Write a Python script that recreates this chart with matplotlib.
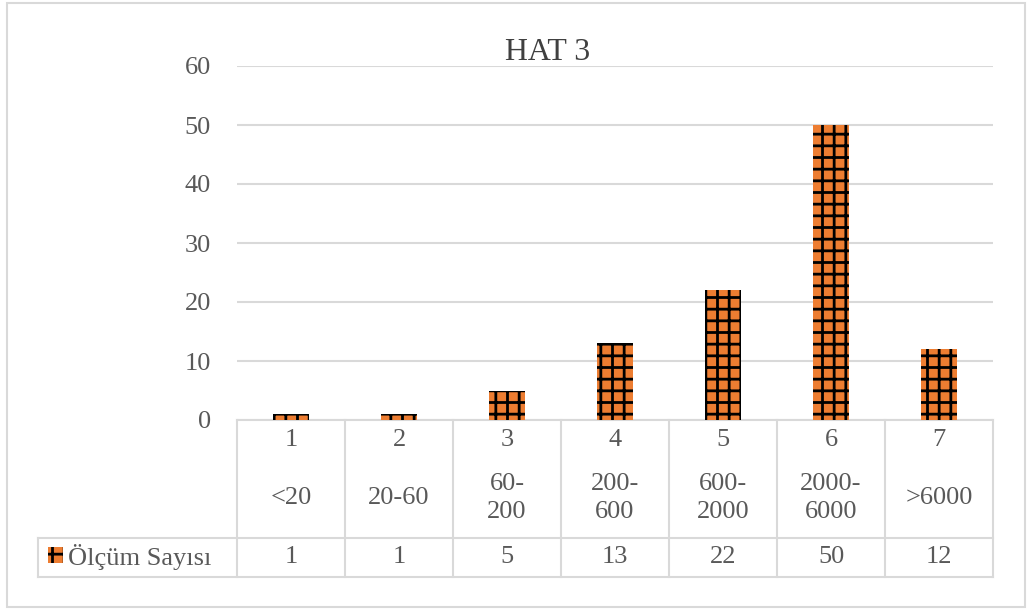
import numpy as np
import matplotlib
matplotlib.use("Agg")
import matplotlib.pyplot as plt
import matplotlib.transforms as mtransforms
from matplotlib.patches import Rectangle

# dpi 70 so the '+' hatch repeats every ~12 px like the original
DPI = 70
S = 100 / DPI  # sizes below are given as if at 100 dpi

plt.rcParams['font.family'] = ['Liberation Serif', 'DejaVu Serif']
plt.rcParams['hatch.linewidth'] = 2.0 * S
plt.rcParams['hatch.color'] = 'black'

# data
title = "HAT 3"
series_name = "Ölçüm Sayısı"
class_no = ["1", "2", "3", "4", "5", "6", "7"]
ranges = ["<20", "20-60", "60-\n200", "200-\n600", "600-\n2000", "2000-\n6000", ">6000"]
counts = [1, 1, 5, 13, 22, 50, 12]

W, H = 1033, 610
TXT = '#595959'
GRID = '#d9d9d9'
ORANGE = '#ed7d31'
FS = 19 * S


def fy(py):
    # pixel row (from top) -> figure fraction
    return 1 - py / H


fig = plt.figure(figsize=(W / DPI, H / DPI), dpi=DPI)
ax = fig.add_axes([237 / W, fy(420), (993 - 237) / W, (420 - 66) / H])

x = np.arange(1, len(counts) + 1)
ax.bar(x, counts, width=0.33, color=ORANGE, edgecolor='black', linewidth=0,
       hatch='+', zorder=3)

ax.set_xlim(0.5, len(counts) + 0.5)
ax.set_ylim(0, 60)
ax.set_yticks(range(0, 61, 10))
ax.tick_params(axis='y', length=0, pad=26 * 0.72 * S, labelsize=FS, labelcolor=TXT)
ax.set_xticks([])
ax.grid(axis='y', color=GRID, linewidth=1.5 * S, zorder=0)
for s in ax.spines.values():
    s.set_visible(False)

fig.text(548 / W, fy(53), title, ha='center', va='center', fontsize=23 * S, color='#404040')

# data table under the axis
tr = mtransforms.blended_transform_factory(ax.transData, fig.transFigure)
edges = np.arange(0.5, len(counts) + 1)
lw = 1.5 * S
for e in edges:
    ax.plot([e, e], [fy(420), fy(577)], transform=tr, color=GRID, lw=lw, clip_on=False)
ax.plot([edges[0], edges[-1]], [fy(420)] * 2, transform=tr, color=GRID, lw=lw, clip_on=False)
left = 38 / W
for yy in (538, 577):
    fig.add_artist(plt.Line2D([left, 993 / W], [fy(yy)] * 2, color=GRID, lw=lw))
fig.add_artist(plt.Line2D([left, left], [fy(538), fy(577)], color=GRID, lw=lw))

for xi, n, r, c in zip(x, class_no, ranges, counts):
    ax.text(xi, fy(440), n, transform=tr, ha='center', va='center', fontsize=FS, color=TXT)
    ax.text(xi, fy(498), r, transform=tr, ha='center', va='center', fontsize=FS,
            color=TXT, linespacing=1.3)
    ax.text(xi, fy(557), str(c), transform=tr, ha='center', va='center', fontsize=FS, color=TXT)

# legend key
fig.add_artist(Rectangle((48 / W, fy(563)), 15 / W, 16 / H, transform=fig.transFigure,
                         facecolor=ORANGE, edgecolor='black', linewidth=0, hatch='+'))
fig.text(68 / W, fy(557), series_name, ha='left', va='center', fontsize=FS, color=TXT)

# outer chart border
fig.add_artist(Rectangle((7 / W, fy(607)), (1025 - 7) / W, (607 - 3) / H,
                         transform=fig.transFigure, fill=False, edgecolor=GRID, lw=1.5 * S))

fig.savefig("out.png", dpi=DPI)
